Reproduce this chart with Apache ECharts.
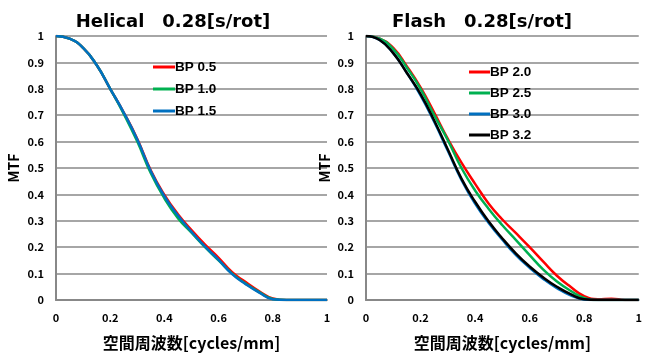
<!DOCTYPE html>
<html>
<head>
<meta charset="utf-8">
<script src="https://cdn.jsdelivr.net/npm/echarts@6/dist/echarts.min.js"></script>
<style>
  html, body { margin: 0; padding: 0; background: #fff; }
  #chart { width: 645px; height: 356px; }
</style>
</head>
<body>
<div id="chart"></div>
<script>
// 空間周波数 [cycles/mm]
var freq = [0, 0.05, 0.1, 0.15, 0.2, 0.25, 0.3, 0.35, 0.4, 0.45, 0.5, 0.55, 0.6, 0.65, 0.7, 0.75, 0.8, 0.85, 0.9, 0.95, 1.0];

// Helical 0.28[s/rot]
var bp05 = [1, 0.99, 0.955, 0.89, 0.80, 0.71, 0.61, 0.49, 0.398, 0.325, 0.265, 0.21, 0.16, 0.105, 0.068, 0.033, 0.006, 0, 0, 0, 0];
var bp10 = [1, 0.99, 0.955, 0.89, 0.80, 0.705, 0.60, 0.48, 0.385, 0.31, 0.255, 0.20, 0.15, 0.10, 0.062, 0.03, 0.004, 0, 0, 0, 0];
var bp15 = [1, 0.99, 0.955, 0.89, 0.80, 0.71, 0.608, 0.488, 0.393, 0.32, 0.258, 0.202, 0.152, 0.098, 0.06, 0.028, 0.003, 0, 0, 0, 0];

// Flash 0.28[s/rot]
var bp20 = [1, 0.99, 0.955, 0.885, 0.805, 0.71, 0.61, 0.52, 0.44, 0.365, 0.305, 0.253, 0.2, 0.145, 0.092, 0.05, 0.015, 0.003, 0.005, 0, 0];
var bp25 = [1, 0.99, 0.95, 0.88, 0.80, 0.70, 0.605, 0.50, 0.415, 0.345, 0.283, 0.227, 0.17, 0.115, 0.07, 0.035, 0.008, 0, 0, 0, 0];
var bp30 = [1, 0.985, 0.935, 0.86, 0.775, 0.675, 0.565, 0.455, 0.365, 0.292, 0.228, 0.17, 0.122, 0.08, 0.045, 0.018, 0.002, 0, 0, 0, 0];
var bp32 = [1, 0.985, 0.935, 0.86, 0.78, 0.68, 0.57, 0.46, 0.372, 0.297, 0.233, 0.176, 0.127, 0.085, 0.05, 0.022, 0.003, 0, 0, 0, 0];

var yTicks = [0, 0.1, 0.2, 0.3, 0.4, 0.5, 0.6, 0.7, 0.8, 0.9, 1];

function pairs(vals) {
    return freq.map(function (f, i) { return [f, vals[i]]; });
}

var FONT = '"Noto Sans CJK JP", "Noto Sans", sans-serif';
var TITLEFONT = '"DejaVu Sans", "Noto Sans", sans-serif';

function xAxisOf(idx) {
    return {
        type: 'value', gridIndex: idx, min: 0, max: 1, interval: 0.2,
        name: '空間周波数[cycles/mm]', nameLocation: 'middle', nameGap: 35,
        nameTextStyle: { fontFamily: FONT, fontWeight: 'bold', fontSize: 16, color: '#000' },
        axisLine: { show: true, lineStyle: { color: '#888', width: 2 } },
        axisTick: { show: false },
        splitLine: { show: false },
        axisLabel: {
            fontFamily: FONT, fontWeight: 'bold', fontSize: 11, color: '#000', margin: 12,
            formatter: function (v) { return String(Math.round(v * 10) / 10); }
        }
    };
}

function yAxisOf(idx, gap) {
    return {
        type: 'value', gridIndex: idx, min: 0, max: 1, interval: 0.1,
        name: 'MTF', nameLocation: 'middle', nameGap: gap, nameRotate: 90,
        nameTextStyle: { fontFamily: FONT, fontWeight: 'bold', fontSize: 14, color: '#000' },
        axisLine: { show: true, lineStyle: { color: '#888', width: 2 } },
        axisTick: { show: false },
        splitLine: { show: true, lineStyle: { color: '#888', width: 1.5 } },
        axisLabel: {
            fontFamily: FONT, fontWeight: 'bold', fontSize: 11, color: '#000', margin: 12,
            formatter: function (v) {
                var r = Math.round(v * 10) / 10;
                return yTicks.indexOf(r) >= 0 ? String(r) : '';
            }
        }
    };
}

function line(name, vals, color, idx) {
    return {
        name: name, type: 'line', xAxisIndex: idx, yAxisIndex: idx,
        data: pairs(vals), showSymbol: false, smooth: 0.5,
        lineStyle: { color: color, width: 2.5 }, itemStyle: { color: color }
    };
}

function legendOf(names, left, top, gap, w) {
    return {
        data: names, orient: 'vertical', left: left, top: top, itemGap: gap, padding: 0,
        itemWidth: w, itemHeight: 3, icon: 'rect', selectedMode: false,
        textStyle: { fontFamily: '"Liberation Sans", sans-serif', fontWeight: 'bold', fontSize: 13.5, color: '#000', padding: [0, 0, 0, -5] }
    };
}

var myChart = echarts.init(document.getElementById('chart'));
var option = {
    animation: false,
    title: [
        { text: 'Helical　0.28[s/rot]', left: 168, top: 8, textAlign: 'center',
          textStyle: { fontFamily: TITLEFONT, fontWeight: 'bold', fontSize: 18, color: '#000' } },
        { text: 'Flash　0.28[s/rot]', left: 477, top: 8, textAlign: 'center',
          textStyle: { fontFamily: TITLEFONT, fontWeight: 'bold', fontSize: 18, color: '#000' } }
    ],
    legend: [
        legendOf(['BP 0.5', 'BP 1.0', 'BP 1.5'], 153, 60, 8, 22),
        legendOf(['BP 2.0', 'BP 2.5', 'BP 3.0', 'BP 3.2'], 469, 65, 7, 21)
    ],
    grid: [
        { left: 56, top: 36, width: 271, height: 267 },
        { left: 366, top: 36, width: 277, height: 267 }
    ],
    xAxis: [xAxisOf(0), xAxisOf(1)],
    yAxis: [yAxisOf(0, 35), yAxisOf(1, 34)],
    series: [
        line('BP 0.5', bp05, '#ff0000', 0),
        line('BP 1.0', bp10, '#00b050', 0),
        line('BP 1.5', bp15, '#0070c0', 0),
        line('BP 2.0', bp20, '#ff0000', 1),
        line('BP 2.5', bp25, '#00b050', 1),
        line('BP 3.0', bp30, '#0070c0', 1),
        line('BP 3.2', bp32, '#000000', 1)
    ]
};
myChart.setOption(option);
</script>
</body>
</html>
